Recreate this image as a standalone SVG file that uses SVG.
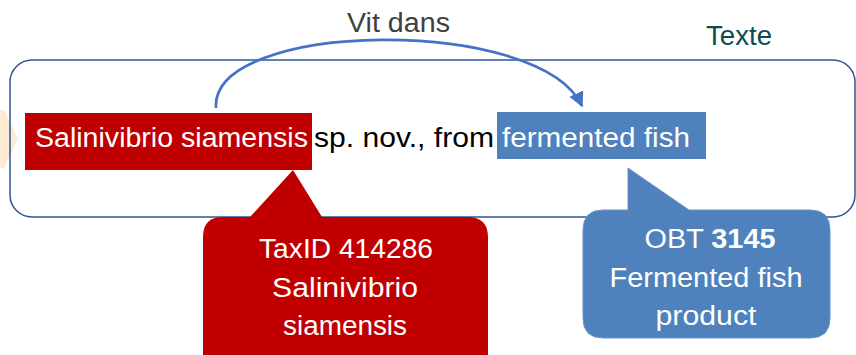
<svg xmlns="http://www.w3.org/2000/svg" width="856" height="355" viewBox="0 0 856 355">
<defs>
<style>
.t{font-family:"Liberation Sans",Arial,sans-serif;font-size:27px}
.w{fill:#ffffff}
.c{text-anchor:middle}
</style>
<marker id="ah" viewBox="0 0 10 10" refX="9" refY="5" markerWidth="5.5" markerHeight="5.5" orient="auto" markerUnits="strokeWidth">
<path d="M0,0 L10,5 L0,10 z" fill="#4472C4"/>
</marker>
</defs>
<rect width="856" height="355" fill="#ffffff"/>
<polygon points="0,110 4,110 18,139 4,168 0,168" fill="#FDE9D4"/>
<g id="texte">
<rect x="10" y="60" width="845" height="157" rx="22" fill="none" stroke="#2F5597" stroke-width="1.5"/>
<text class="t" x="706" y="45" fill="#0E4A52" textLength="66" lengthAdjust="spacingAndGlyphs">Texte</text>
</g>
<g id="species">
<rect x="25" y="113" width="287" height="57" fill="#C00000"/>
<text class="t w" x="35" y="147" textLength="273" lengthAdjust="spacingAndGlyphs">Salinivibrio siamensis</text>
</g>
<g id="middle">
<text class="t" x="314" y="147" fill="#000000" textLength="180" lengthAdjust="spacingAndGlyphs">sp. nov., from</text>
</g>
<g id="habitat">
<rect x="497" y="112" width="209" height="47" fill="#4F81BD"/>
<text class="t w" x="502" y="147" textLength="188" lengthAdjust="spacingAndGlyphs">fermented fish</text>
</g>
<g id="connectors">
<path d="M216,108 C210,20 540,15 582,106" fill="none" stroke="#4472C4" stroke-width="2.75" marker-end="url(#ah)"/>
<text class="t" x="347" y="32" fill="#404040" textLength="103" lengthAdjust="spacingAndGlyphs">Vit dans</text>
</g>
<g id="taxid">
<path d="M223,217 L250,217 L293,170 L322,217 L467,217 Q488,217 488,237 L488,355 L203,355 L203,237 Q203,217 223,217 Z" fill="#C00000"/>
<text class="t w c" x="346" y="258" textLength="174" lengthAdjust="spacingAndGlyphs">TaxID 414286</text>
<text class="t w c" x="345" y="297" textLength="146" lengthAdjust="spacingAndGlyphs">Salinivibrio</text>
<text class="t w c" x="345" y="335" textLength="124" lengthAdjust="spacingAndGlyphs">siamensis</text>
</g>
<g id="obt">
<path d="M603,210 L628,210 L628,168 L689,210 L810,210 Q830,210 830,230 L830,318 Q830,338 810,338 L603,338 Q583,338 583,318 L583,230 Q583,210 603,210 Z" fill="#4F81BD" stroke="#6A93C8" stroke-width="1"/>
<text class="t w c" x="710" y="248" textLength="131" lengthAdjust="spacingAndGlyphs">OBT <tspan font-weight="bold">3145</tspan></text>
<text class="t w c" x="706" y="287" textLength="193" lengthAdjust="spacingAndGlyphs">Fermented fish</text>
<text class="t w c" x="706" y="325" textLength="101" lengthAdjust="spacingAndGlyphs">product</text>
</g>
</svg>
